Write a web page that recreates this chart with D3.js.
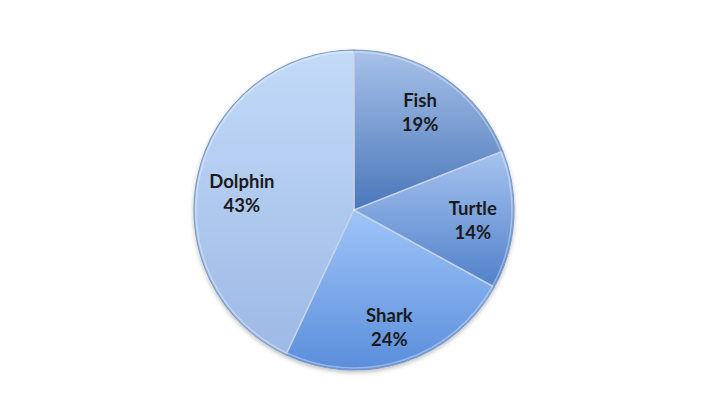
<!DOCTYPE html>
<html>
<head>
<meta charset="utf-8">
<script src="https://cdn.jsdelivr.net/npm/d3@7"></script>
<style>
  body { margin: 0; background: #fff; }
  .label { font-family: Lato, "Open Sans", sans-serif; font-weight: bold; font-size: 18.5px; fill: #1a1a1a; }
</style>
</head>
<body>
<div id="svg"></div>
<script>
// pie chart of sea animals, clockwise from 12 o'clock
let names = ["Fish", "Turtle", "Shark", "Dolphin"];
let values = [19, 14, 24, 43];
let topColors = ["#a8c1e8", "#a6c3f0", "#9fc5f8", "#c3daf8"];
let bottomColors = ["#4a77ba", "#5181c9", "#5a8edb", "#9db9e5"];

function makeGraph() {
  let w = 709, h = 419;
  let cx = 354, cy = 210, r = 160;

  let svg = d3.select("#svg")
              .append("svg")
              .attr("width", w)
              .attr("height", h);

  let defs = svg.append("defs");
  names.forEach((n, i) => {
    let g = defs.append("linearGradient")
                .attr("id", "grad" + i)
                .attr("x1", 0).attr("y1", 0)
                .attr("x2", 0).attr("y2", 1);
    g.append("stop").attr("offset", "0%").attr("stop-color", topColors[i]);
    g.append("stop").attr("offset", "100%").attr("stop-color", bottomColors[i]);
  });

  let shadow = defs.append("filter").attr("id", "shadow")
                   .attr("x", "-20%").attr("y", "-20%")
                   .attr("width", "140%").attr("height", "140%");
  shadow.append("feDropShadow")
        .attr("dx", 0).attr("dy", 2)
        .attr("stdDeviation", 2)
        .attr("flood-color", "#000")
        .attr("flood-opacity", 0.25);

  let data = names.map((n, i) => ({ name: n, value: values[i] }));
  let pie = d3.pie().sort(null).value(d => d.value);
  let arcs = pie(data);

  let arc = d3.arc().innerRadius(0).outerRadius(r);
  let labelArc = d3.arc().innerRadius(121).outerRadius(121);
  // big slice label sits a bit closer to the centre (like excel best fit)
  let labelPos = d => {
    let c = labelArc.centroid(d);
    if (d.value > 40) return [c[0] + 6, c[1] + 9];
    return [c[0] - 2, c[1] + 2];
  };

  let g = svg.append("g")
             .attr("transform", `translate(${cx}, ${cy})`);

  g.append("g")
   .attr("filter", "url(#shadow)")
   .selectAll("path")
   .data(arcs)
   .enter()
   .append("path")
   .attr("d", arc)
   .attr("fill", (d, i) => `url(#grad${i})`)
   .attr("stroke", "#7f9bc6")
   .attr("stroke-width", 1.2)
   .attr("stroke-linejoin", "round");

  // soft bevel highlight on the slice edges
  let inner = d3.arc().innerRadius(0).outerRadius(r - 2);
  g.append("g")
   .selectAll("path")
   .data(arcs)
   .enter()
   .append("path")
   .attr("d", inner)
   .attr("fill", "none")
   .attr("stroke", "#ffffff")
   .attr("stroke-opacity", 0.35)
   .attr("stroke-width", 1.5);

  let labels = g.selectAll("text")
                .data(arcs)
                .enter()
                .append("text")
                .classed("label", true)
                .attr("text-anchor", "middle")
                .attr("transform", d => `translate(${labelPos(d)})`);

  labels.append("tspan")
        .attr("x", 0)
        .attr("y", -5)
        .text(d => d.data.name);
  labels.append("tspan")
        .attr("x", 0)
        .attr("y", 19)
        .text(d => d.data.value + "%");
}

window.onload = function() {
  makeGraph();
};
</script>
</body>
</html>
